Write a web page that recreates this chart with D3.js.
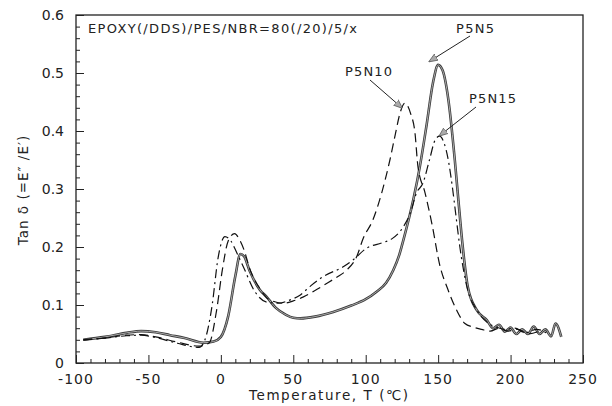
<!DOCTYPE html>
<html>
<head>
<meta charset="utf-8">
<script src="https://cdn.jsdelivr.net/npm/d3@7"></script>
<style>
  body { margin: 0; background: #fff; }
  text { font-family: "DejaVu Sans", Verdana, sans-serif; fill: #222; }
</style>
</head>
<body>
<script>
// tan delta vs temperature
const p5n5 = [[-95,0.04],[-80,0.045],[-65,0.052],[-55,0.055],[-45,0.053],[-35,0.048],[-25,0.043],[-12,0.035],[-5,0.037],[0,0.045],[5,0.08],[10,0.15],[13.5,0.188],[16,0.184],[20,0.158],[27,0.126],[31.6,0.114],[38,0.095],[45,0.083],[50,0.078],[55,0.077],[65,0.08],[77.6,0.088],[90,0.099],[100,0.11],[107.5,0.123],[114,0.138],[119,0.16],[123,0.185],[126,0.212],[132.8,0.281],[137.4,0.339],[142,0.41],[146.5,0.484],[150,0.514],[153,0.505],[157,0.455],[161.5,0.35],[164,0.28],[167,0.2],[170.5,0.131],[176.7,0.091],[183.6,0.074],[188,0.06],[192,0.066],[196,0.054],[200,0.061],[204,0.05],[208,0.058],[212,0.05],[216,0.063],[220,0.05],[224,0.058],[228,0.046],[231,0.068],[235,0.045]];
const p5n10 = [[-95,0.04],[-80,0.043],[-65,0.048],[-55,0.049],[-45,0.045],[-30,0.036],[-15,0.029],[-8,0.035],[-3,0.09],[1,0.16],[5,0.21],[9.5,0.223],[13,0.212],[16,0.195],[20,0.162],[27,0.128],[33,0.11],[43,0.103],[50,0.107],[57,0.114],[65,0.125],[73,0.137],[80,0.148],[86.8,0.16],[93.7,0.183],[98.3,0.215],[105,0.247],[111,0.293],[116.7,0.35],[120.5,0.395],[123.6,0.43],[127,0.448],[131,0.43],[134,0.397],[136,0.34],[141,0.293],[145.7,0.24],[151,0.17],[157,0.125],[163,0.09],[168.5,0.068],[174,0.062],[180,0.058],[186,0.055],[192,0.06],[198,0.055],[205,0.058],[212,0.05],[220,0.055]];
const p5n15 = [[-95,0.04],[-80,0.043],[-65,0.047],[-55,0.048],[-45,0.044],[-30,0.034],[-15,0.027],[-11,0.04],[-6,0.1],[-2,0.18],[2.8,0.218],[7,0.21],[11,0.19],[15.5,0.166],[23.5,0.123],[31.6,0.105],[40,0.103],[47,0.108],[54.6,0.117],[62,0.133],[70.7,0.149],[84.5,0.166],[91.4,0.178],[100.6,0.198],[111,0.207],[118,0.214],[126,0.235],[131,0.26],[135,0.293],[139.5,0.31],[144,0.35],[148,0.385],[151,0.391],[154,0.38],[157,0.35],[160,0.3],[162,0.26],[165,0.2],[170,0.13],[177,0.09],[185,0.068],[190,0.062],[196,0.058],[203,0.06],[210,0.052],[218,0.058],[226,0.05]];

const xTicks = [-100, -50, 0, 50, 100, 150, 200, 250];
const yTicks = [0, 0.1, 0.2, 0.3, 0.4, 0.5, 0.6];

const labels = [
  {name: 'P5N5', tx: 456, ty: 33, len: 38, from: [470, 36], to: [144, 0.52]},
  {name: 'P5N10', tx: 345, ty: 76, len: 47, from: [370, 80], to: [125, 0.44]},
  {name: 'P5N15', tx: 469, ty: 103, len: 47, from: [476, 107], to: [151, 0.392]}
];

const W = 612, H = 406;
const m = {left: 76, right: 29, top: 15, bottom: 43};

const svg = d3.select('body').append('svg').attr('width', W).attr('height', H);

const x = d3.scaleLinear().domain([-100, 250]).range([m.left, W - m.right]);
const y = d3.scaleLinear().domain([0, 0.6]).range([H - m.bottom, m.top]);

// frame
svg.append('rect')
  .attr('x', x(-100)).attr('y', y(0.6))
  .attr('width', x(250) - x(-100)).attr('height', y(0) - y(0.6))
  .attr('fill', 'none').attr('stroke', '#222').attr('stroke-width', 1.3);

// x axis, ticks pointing inward
const gx = svg.append('g').attr('transform', 'translate(0,' + y(0) + ')');
gx.call(d3.axisBottom(x).tickValues(d3.range(-100, 251, 10)).tickSize(-4).tickFormat(''));
gx.call(g => g.selectAll('.tick').filter(d => d % 50 === 0).select('line').attr('y2', -8));
gx.select('.domain').remove();
gx.selectAll('line').attr('stroke', '#222');
xTicks.forEach(t => {
  svg.append('text').attr('x', x(t)).attr('y', y(0) + 21)
    .attr('text-anchor', 'middle').attr('font-size', 14).attr('letter-spacing', 1).text(t);
});

// y axis
const gy = svg.append('g').attr('transform', 'translate(' + x(-100) + ',0)');
gy.call(d3.axisLeft(y).tickValues(d3.range(0, 0.601, 0.02)).tickSize(-4).tickFormat(''));
gy.call(g => g.selectAll('.tick').filter(d => Math.abs(d * 10 - Math.round(d * 10)) < 1e-6).select('line').attr('x2', 8));
gy.select('.domain').remove();
gy.selectAll('line').attr('stroke', '#222');
yTicks.forEach(t => {
  svg.append('text').attr('x', x(-100) - 12).attr('y', y(t) + 5)
    .attr('text-anchor', 'end').attr('font-size', 14).text(t === 0 ? '0' : t.toFixed(1));
});

// axis titles
svg.append('text').attr('x', 249).attr('y', 400)
  .attr('font-size', 13.5).attr('textLength', 159).attr('lengthAdjust', 'spacing')
  .text('Temperature, T (\u2103)');
svg.append('text').attr('transform', 'translate(28,' + 190 + ') rotate(-90)')
  .attr('text-anchor', 'middle').attr('font-size', 13.5).attr('letter-spacing', 1)
  .text('Tan \u03b4 (=E\u2033 /E\u2032)');

svg.append('text').attr('x', 88).attr('y', 33).attr('font-size', 13)
  .attr('textLength', 269).attr('lengthAdjust', 'spacing')
  .text('EPOXY(/DDS)/PES/NBR=80(/20)/5/x');

// curves
const line = d3.line().x(d => x(d[0])).y(d => y(d[1])).curve(d3.curveMonotoneX);

// solid curve looks like a double line in the scan
svg.append('path').datum(p5n5).attr('d', line)
  .attr('fill', 'none').attr('stroke', '#3a3a3a').attr('stroke-width', 2.6);
svg.append('path').datum(p5n5).attr('d', line)
  .attr('fill', 'none').attr('stroke', '#b5b5b5').attr('stroke-width', 0.9);
svg.append('path').datum(p5n10).attr('d', line)
  .attr('fill', 'none').attr('stroke', '#111').attr('stroke-width', 1.2)
  .attr('stroke-dasharray', '9,5');
svg.append('path').datum(p5n15).attr('d', line)
  .attr('fill', 'none').attr('stroke', '#111').attr('stroke-width', 1.2)
  .attr('stroke-dasharray', '9,4,2,4');

// labels with arrows
svg.append('defs').append('marker')
  .attr('id', 'arr').attr('viewBox', '0 0 10 10').attr('refX', 9).attr('refY', 5)
  .attr('markerWidth', 9).attr('markerHeight', 9).attr('orient', 'auto')
  .append('path').attr('d', 'M0,1L10,5L0,9z')
  .attr('fill', '#aaa').attr('stroke', '#555').attr('stroke-width', 0.8);

labels.forEach(l => {
  svg.append('text').attr('x', l.tx).attr('y', l.ty).attr('font-size', 13)
    .attr('textLength', l.len).attr('lengthAdjust', 'spacing').text(l.name);
  svg.append('line')
    .attr('x1', l.from[0]).attr('y1', l.from[1])
    .attr('x2', x(l.to[0])).attr('y2', y(l.to[1]))
    .attr('stroke', '#222').attr('stroke-width', 1)
    .attr('marker-end', 'url(#arr)');
});
</script>
</body>
</html>
